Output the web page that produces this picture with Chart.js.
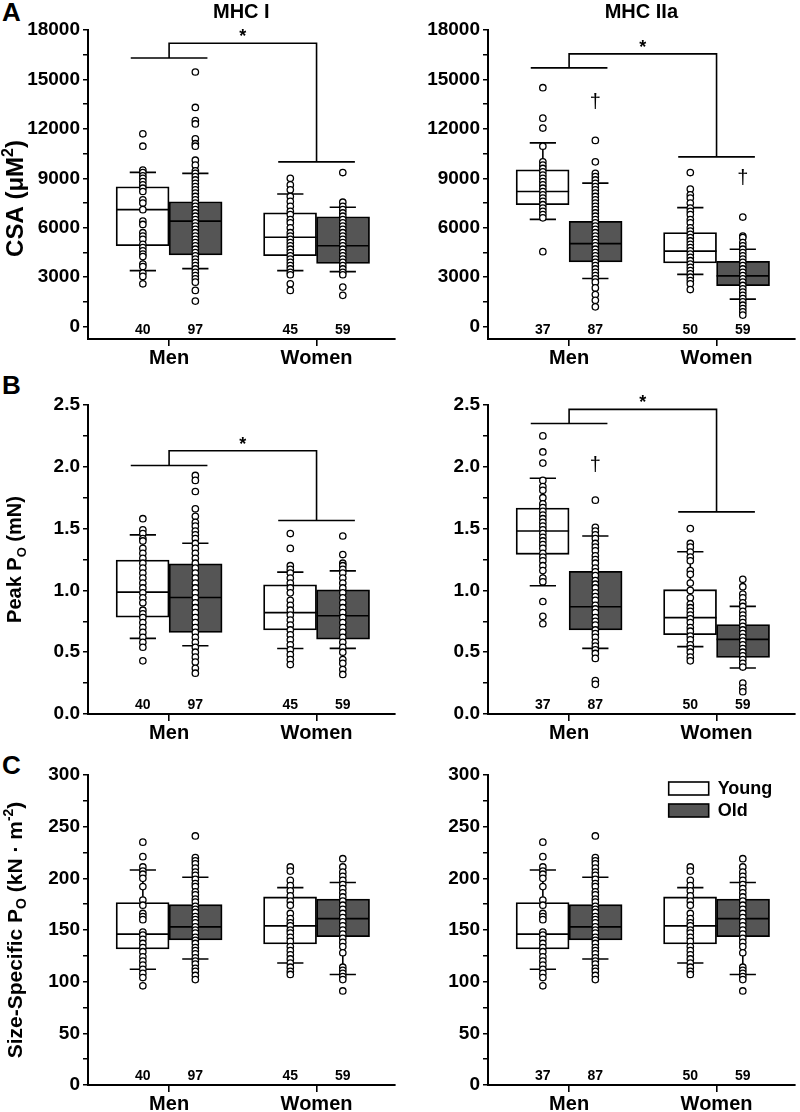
<!DOCTYPE html>
<html>
<head>
<meta charset="utf-8">
<script src="https://cdn.jsdelivr.net/npm/chart.js@4.4.1/dist/chart.umd.min.js"></script>
<style>
  body { margin: 0; background: #fff; width: 800px; height: 1112px; position: relative; overflow: hidden;
         font-family: Arial, "Liberation Sans", sans-serif; }
  canvas { position: absolute; }
  .letter { position: absolute; left: 2px; font-weight: bold; font-size: 26px; line-height: 1; }
</style>
</head>
<body>
<div class="letter" style="top:-1px">A</div>
<div class="letter" style="top:372px">B</div>
<div class="letter" style="top:752px">C</div>

<canvas id="csaI" width="400" height="372" style="left:0;top:0"></canvas>
<canvas id="csaIIa" width="400" height="372" style="left:400px;top:0"></canvas>
<canvas id="peakI" width="400" height="378" style="left:0;top:372px"></canvas>
<canvas id="peakIIa" width="400" height="378" style="left:400px;top:372px"></canvas>
<canvas id="ssI" width="400" height="362" style="left:0;top:750px"></canvas>
<canvas id="ssIIa" width="400" height="362" style="left:400px;top:750px"></canvas>

<script>
const FONT = 'Arial, "Liberation Sans", sans-serif';
Chart.defaults.font.family = FONT;
Chart.defaults.color = '#000';

// categories
const groups = ["Men", "Women"];
const ageGroups = ["Young", "Old"];

// tick labels
const csaTicks = [0, 3000, 6000, 9000, 12000, 15000, 18000];
const peakTicks = [0, 0.5, 1.0, 1.5, 2.0, 2.5];
const ssTicks = [0, 50, 100, 150, 200, 250, 300];

// fibre counts: young men, old men, young women, old women
const countsI = [40, 97, 45, 59];
const countsIIa = [37, 87, 50, 59];

// box stats [lower whisker, q1, median, q3, upper whisker] : YM, OM, YW, OW
const csaI_box = [[3400, 4910, 7100, 8490, 9360], [3520, 4350, 6400, 7580, 9300],
                  [3400, 4310, 5420, 6910, 8050], [3340, 3840, 4910, 6670, 7240]];
const csaIIa_box = [[6510, 7400, 8200, 9520, 11150], [2920, 3930, 5040, 6390, 8710],
                    [3170, 3870, 4580, 5710, 7220], [1670, 2480, 3080, 3970, 4700]];
const peakI_box = [[0.612, 0.784, 0.986, 1.245, 1.449], [0.552, 0.66, 0.943, 1.215, 1.382],
                   [0.53, 0.68, 0.82, 1.045, 1.148], [0.531, 0.606, 0.795, 1.005, 1.158]];
const peakIIa_box = [[1.038, 1.292, 1.48, 1.667, 1.907], [0.531, 0.68, 0.868, 1.154, 1.44],
                     [0.545, 0.642, 0.78, 1.006, 1.313], [0.372, 0.458, 0.604, 0.723, 0.871]];
const ss_box = [[112, 131.6, 146, 176.5, 208], [122, 140.3, 153, 174.5, 201],
                [118, 136.5, 154, 182, 191], [107, 143.6, 161, 180, 196]];

// individual fibres
const csaI_youngMen = [11700, 10950, 9500, 9350, 9150, 9000, 8800, 8600, 8400, 8200, 7700, 7500, 7100, 6400, 6200, 5700, 5500, 5300, 5000, 4800, 4600, 4400, 4250, 3800, 3650, 3250, 3050, 2600];
const csaI_oldMen = [15450, 13300, 12500, 12300, 11400, 11100, 10950, 10100, 9800, 9450, 9300, 9100, 8900, 8700, 8500, 8300, 8100, 7900, 7700, 7500, 7300, 7100, 6900, 6700, 6500, 6300, 6100, 5900, 5700, 5500, 5300, 5100, 4900, 4700, 4500, 4300, 4100, 3900, 3700, 3500, 3300, 3100, 2900, 2700, 2200, 1550];
const csaI_youngWomen = [9000, 8600, 8300, 7900, 7600, 7300, 7000, 6800, 6500, 6300, 6000, 5700, 5500, 5300, 5100, 4900, 4700, 4500, 4300, 4100, 3900, 3700, 3500, 3300, 3150, 2600, 2200];
const csaI_oldWomen = [9350, 7550, 7300, 7100, 6900, 6700, 6500, 6300, 6100, 5900, 5700, 5500, 5300, 5100, 4900, 4700, 4500, 4300, 4100, 3900, 3700, 3500, 3300, 3150, 2400, 1900];

const csaIIa_youngMen = [14500, 12650, 12050, 10950, 10000, 9800, 9600, 9400, 9200, 9000, 8800, 8600, 8400, 8200, 8000, 7800, 7600, 7400, 7200, 7000, 6800, 6600, 4550];
const csaIIa_oldMen = [11300, 10000, 9300, 9100, 8900, 8700, 8500, 8300, 8100, 7900, 7700, 7500, 7300, 7100, 6900, 6700, 6500, 6300, 6100, 5900, 5700, 5500, 5300, 5100, 4900, 4700, 4500, 4300, 4100, 3900, 3700, 3500, 3300, 3100, 2900, 2700, 2350, 1950, 1600, 1200];
const csaIIa_youngWomen = [9350, 8350, 8000, 7800, 7500, 7200, 7000, 6800, 6500, 6300, 6000, 5800, 5600, 5400, 5200, 5000, 4800, 4600, 4400, 4200, 4000, 3800, 3600, 3400, 3200, 3000, 2800, 2600, 2250];
const csaIIa_oldWomen = [6650, 5500, 5400, 5100, 4900, 4700, 4500, 4300, 4100, 3900, 3700, 3500, 3300, 3100, 2900, 2700, 2500, 2300, 2100, 1900, 1700, 1500, 1300, 1100, 900, 700];

const peakI_youngMen = [1.58, 1.49, 1.46, 1.42, 1.40, 1.34, 1.30, 1.26, 1.22, 1.18, 1.14, 1.10, 1.06, 1.02, 0.98, 0.94, 0.90, 0.84, 0.81, 0.78, 0.74, 0.70, 0.66, 0.62, 0.58, 0.54, 0.43];
const peakI_oldMen = [1.93, 1.89, 1.80, 1.66, 1.60, 1.55, 1.52, 1.48, 1.45, 1.42, 1.38, 1.34, 1.30, 1.26, 1.22, 1.18, 1.14, 1.10, 1.06, 1.02, 0.98, 0.94, 0.90, 0.86, 0.82, 0.78, 0.74, 0.70, 0.66, 0.62, 0.58, 0.54, 0.50, 0.46, 0.42, 0.37, 0.33];
const peakI_youngWomen = [1.46, 1.34, 1.20, 1.17, 1.14, 1.10, 1.06, 1.02, 0.98, 0.92, 0.88, 0.84, 0.80, 0.76, 0.72, 0.68, 0.64, 0.60, 0.56, 0.52, 0.48, 0.44, 0.40];
const peakI_oldWomen = [1.44, 1.29, 1.22, 1.20, 1.17, 1.14, 1.10, 1.06, 1.02, 0.98, 0.94, 0.90, 0.86, 0.82, 0.78, 0.74, 0.70, 0.66, 0.62, 0.58, 0.54, 0.50, 0.44, 0.41, 0.36, 0.32];

const peakIIa_youngMen = [2.25, 2.12, 2.03, 1.89, 1.84, 1.81, 1.75, 1.70, 1.67, 1.64, 1.61, 1.58, 1.55, 1.52, 1.49, 1.46, 1.43, 1.40, 1.37, 1.34, 1.30, 1.27, 1.24, 1.20, 1.16, 1.10, 1.07, 0.91, 0.79, 0.73];
const peakIIa_oldMen = [1.73, 1.51, 1.48, 1.45, 1.42, 1.38, 1.35, 1.32, 1.28, 1.25, 1.22, 1.18, 1.15, 1.12, 1.08, 1.05, 1.02, 0.98, 0.95, 0.92, 0.88, 0.85, 0.82, 0.78, 0.75, 0.72, 0.68, 0.65, 0.62, 0.58, 0.55, 0.52, 0.49, 0.45, 0.27, 0.24];
const peakIIa_youngWomen = [1.50, 1.38, 1.35, 1.31, 1.27, 1.24, 1.16, 1.13, 1.06, 1.00, 0.94, 0.89, 0.86, 0.83, 0.80, 0.77, 0.74, 0.70, 0.67, 0.63, 0.60, 0.56, 0.53, 0.50, 0.46, 0.43];
const peakIIa_oldWomen = [1.09, 1.03, 0.97, 0.94, 0.90, 0.87, 0.83, 0.80, 0.77, 0.74, 0.71, 0.68, 0.65, 0.62, 0.59, 0.56, 0.53, 0.50, 0.47, 0.44, 0.41, 0.38, 0.25, 0.21, 0.18];

const ss_youngMen = [235, 221, 211, 207, 204, 200, 192, 179, 174, 166, 163, 160, 148, 145, 141, 137, 133, 129, 124, 120, 116, 112, 108, 104, 96];
const ss_oldMen = [241, 220, 217, 214, 210, 206, 203, 199, 195, 192, 187, 184, 180, 177, 173, 170, 167, 163, 160, 157, 153, 150, 147, 143, 140, 137, 133, 130, 127, 123, 120, 117, 113, 110, 106, 102];
const ss_youngWomen = [211, 207, 198, 193, 188, 183, 178, 174, 166, 161, 157, 154, 150, 147, 143, 139, 134, 130, 126, 122, 118, 114, 110, 107];
const ss_oldWomen = [219, 211, 206, 202, 198, 194, 190, 186, 182, 178, 174, 170, 166, 162, 158, 154, 150, 146, 142, 138, 134, 128, 114, 111, 108, 105, 102, 91];

// sex-effect brackets [men bar, top bar, women bar]
const sigCsaI = [16300, 17200, 10000];
const sigCsaIIa = [15700, 16550, 10300];
const sigPeakI = [2.01, 2.13, 1.565];
const sigPeakIIa = [2.35, 2.465, 1.635];

// age-effect daggers (per box, null = none)
const daggerCsaIIa = [null, 13600, null, 8970];
const daggerPeakIIa = [null, 2.01, null, null];

const OFF = 0.178;   // box centre offset from group tick (group units)
const DARK = '#555555';

function withMinor(major) {
  const out = [];
  major.forEach((v, i) => {
    out.push(v);
    if (i < major.length - 1) out.push((v + major[i + 1]) / 2);
  });
  return out;
}

const boxExtras = {
  id: 'boxExtras',
  beforeDatasetsDraw(chart) { chart.$bars = 0; },
  afterDatasetDraw(chart, args, opts) {
    if (args.meta.type !== 'bar') return;
    chart.$bars++;
    if (chart.$bars < 2) return;
    const { ctx, scales: { x, y } } = chart;
    const half = x.getPixelForValue(1 + OFF) - x.getPixelForValue(1);
    ctx.save();
    ctx.strokeStyle = '#000';
    ctx.lineWidth = 1.6;
    opts.boxes.forEach((b, k) => {
      const g = Math.floor(k / 2) + 1;
      const xc = x.getPixelForValue(g + (k % 2 ? OFF : -OFF));
      const [lo, q1, med, q3, hi] = b.map(v => y.getPixelForValue(v));
      ctx.beginPath();
      ctx.moveTo(xc - half, med); ctx.lineTo(xc + half, med);
      ctx.moveTo(xc, q3); ctx.lineTo(xc, hi);
      ctx.moveTo(xc, q1); ctx.lineTo(xc, lo);
      ctx.moveTo(xc - half / 2, hi); ctx.lineTo(xc + half / 2, hi);
      ctx.moveTo(xc - half / 2, lo); ctx.lineTo(xc + half / 2, lo);
      ctx.stroke();
    });
    ctx.restore();
  },
  afterDatasetsDraw(chart, args, opts) {
    const { ctx, chartArea, scales: { x, y } } = chart;
    ctx.save();
    ctx.fillStyle = '#000';
    ctx.strokeStyle = '#000';
    ctx.textAlign = 'center';

    // n per box
    ctx.font = 'bold 14px ' + FONT;
    ctx.textBaseline = 'middle';
    opts.counts.forEach((n, k) => {
      const g = Math.floor(k / 2) + 1;
      ctx.fillText(String(n), x.getPixelForValue(g + (k % 2 ? OFF : -OFF)), chartArea.bottom - 9);
    });

    // sex bracket
    if (opts.sig) {
      const [m, t, w] = opts.sig.map(v => y.getPixelForValue(v));
      const x1 = x.getPixelForValue(1), x2 = x.getPixelForValue(2);
      const hw = x.getPixelForValue(1.26) - x1;
      ctx.lineWidth = 1.6;
      ctx.beginPath();
      ctx.moveTo(x1 - hw, m); ctx.lineTo(x1 + hw, m);
      ctx.moveTo(x1, m); ctx.lineTo(x1, t); ctx.lineTo(x2, t); ctx.lineTo(x2, w);
      ctx.moveTo(x2 - hw, w); ctx.lineTo(x2 + hw, w);
      ctx.stroke();
      ctx.font = 'bold 18px ' + FONT;
      ctx.textBaseline = 'alphabetic';
      ctx.fillText('*', (x1 + x2) / 2, t - 1);
    }

    // age daggers
    if (opts.daggers) {
      ctx.font = '20px ' + FONT;
      ctx.textBaseline = 'middle';
      opts.daggers.forEach((v, k) => {
        if (v == null) return;
        const g = Math.floor(k / 2) + 1;
        ctx.fillText('\u2020', x.getPixelForValue(g + (k % 2 ? OFF : -OFF)), y.getPixelForValue(v));
      });
    }

    // legend
    if (opts.legend) {
      const bars = chart.data.datasets.filter(d => d.type === 'bar');
      ctx.textAlign = 'left';
      ctx.textBaseline = 'middle';
      ctx.font = 'bold 18px ' + FONT;
      ctx.lineWidth = 1.6;
      bars.forEach((d, i) => {
        const bx = chartArea.right - 126, by = chartArea.top + 7 + i * 22;
        ctx.fillStyle = d.backgroundColor;
        ctx.fillRect(bx, by, 40, 13);
        ctx.strokeRect(bx, by, 40, 13);
        ctx.fillStyle = '#000';
        ctx.fillText(d.label, bx + 49, by + 7);
      });
    }

    // y title with sub/superscripts
    if (opts.yTitle) {
      const fs = opts.yTitleSize;
      const cy = (chartArea.top + chartArea.bottom) / 2 + (opts.yTitleShift || 0);
      ctx.translate(14, cy);
      ctx.rotate(-Math.PI / 2);
      ctx.textAlign = 'left';
      ctx.textBaseline = 'alphabetic';
      const segs = opts.yTitle.map(([t, s]) => ({ t, s, f: 'bold ' + (s ? Math.round(fs * 0.65) : fs) + 'px ' + FONT }));
      let total = 0;
      segs.forEach(sg => { ctx.font = sg.f; sg.w = ctx.measureText(sg.t).width; total += sg.w; });
      let px = -total / 2;
      segs.forEach(sg => {
        ctx.font = sg.f;
        const dy = fs * 0.36 + (sg.s > 0 ? -fs * 0.42 : sg.s < 0 ? fs * 0.22 : 0);
        ctx.fillText(sg.t, px, dy);
        px += sg.w;
      });
    }
    ctx.restore();
  }
};

function makePanel(id, o) {
  const datasets = ageGroups.map((label, a) => ({
    type: 'bar',
    label,
    data: groups.map((g, gi) => {
      const b = o.boxes[gi * 2 + a];
      return { x: gi + 1, y: [b[1], b[3]] };
    }),
    backgroundColor: a ? DARK : '#ffffff',
    borderColor: '#000',
    borderWidth: 1.8,
    borderSkipped: false,
    barThickness: 53,
    grouped: true,
    order: 2
  }));
  o.points.forEach((pts, k) => {
    const g = Math.floor(k / 2) + 1;
    datasets.push({
      type: 'scatter',
      data: pts.map(v => ({ x: g + (k % 2 ? OFF : -OFF), y: v })),
      pointRadius: 3.2,
      pointBorderWidth: 1.3,
      pointBackgroundColor: '#fff',
      pointBorderColor: '#000',
      order: 1
    });
  });

  const yTicks = withMinor(o.ticks);
  new Chart(document.getElementById(id), {
    type: 'bar',
    data: { datasets },
    plugins: [boxExtras],
    options: {
      responsive: false,
      animation: false,
      events: [],
      layout: { padding: { top: o.padTop, left: 0, right: 1, bottom: 0 } },
      plugins: {
        legend: { display: false },
        tooltip: { enabled: false },
        title: {
          display: !!o.title,
          text: o.title || '',
          fullSize: false,
          font: { size: 20, weight: 'bold' },
          color: '#000',
          padding: { top: 0, bottom: 6 }
        },
        boxExtras: {
          boxes: o.boxes, counts: o.counts, sig: o.sig, daggers: o.daggers, legend: o.legend,
          yTitle: o.yTitle, yTitleSize: o.yTitleSize, yTitleShift: o.yTitleShift
        }
      },
      scales: {
        x: {
          type: 'linear',
          offset: false,
          min: 0.45,
          max: 2.53,
          afterBuildTicks: s => { s.ticks = groups.map((g, i) => ({ value: i + 1 })); },
          afterFit: s => { s.height = o.xHeight; },
          ticks: {
            callback: (v, i) => groups[i],
            font: { size: 20, weight: 'bold' },
            color: '#000',
            padding: 0,
            maxRotation: 0,
            autoSkip: false
          },
          grid: { offset: false, drawOnChartArea: false, drawTicks: true, tickLength: 7, color: '#000', lineWidth: 1.6 },
          border: { display: true, color: '#000', width: 2 }
        },
        y: {
          type: 'linear',
          min: o.yMin,
          max: o.ticks[o.ticks.length - 1],
          afterBuildTicks: s => { s.ticks = yTicks.map(v => ({ value: v })); },
          afterFit: s => { s.width = 88; },
          ticks: {
            callback: v => o.ticks.includes(v) ? o.fmt(v) : '',
            font: { size: 19, weight: 'bold' },
            color: '#000',
            padding: 3,
            autoSkip: false
          },
          grid: { drawOnChartArea: false, drawTicks: true, tickLength: 5, color: '#000', lineWidth: 1.5 },
          border: { display: true, color: '#000', width: 2 }
        }
      }
    }
  });
}

const intFmt = v => String(v);
const decFmt = v => v.toFixed(1);

makePanel('csaI', {
  title: 'MHC I', padTop: 0, xHeight: 33, yMin: -750, ticks: csaTicks, fmt: intFmt,
  boxes: csaI_box, counts: countsI, sig: sigCsaI,
  points: [csaI_youngMen, csaI_oldMen, csaI_youngWomen, csaI_oldWomen],
  yTitle: [['CSA (\u03BCM', 0], ['2', 1], [')', 0]], yTitleSize: 24, yTitleShift: 14
});
makePanel('csaIIa', {
  title: 'MHC IIa', padTop: 0, xHeight: 33, yMin: -750, ticks: csaTicks, fmt: intFmt,
  boxes: csaIIa_box, counts: countsIIa, sig: sigCsaIIa, daggers: daggerCsaIIa,
  points: [csaIIa_youngMen, csaIIa_oldMen, csaIIa_youngWomen, csaIIa_oldWomen]
});
makePanel('peakI', {
  padTop: 33, xHeight: 36, yMin: 0, ticks: peakTicks, fmt: decFmt,
  boxes: peakI_box, counts: countsI, sig: sigPeakI,
  points: [peakI_youngMen, peakI_oldMen, peakI_youngWomen, peakI_oldWomen],
  yTitle: [['Peak P', 0], ['O', -1], [' (mN)', 0]], yTitleSize: 20
});
makePanel('peakIIa', {
  padTop: 33, xHeight: 36, yMin: 0, ticks: peakTicks, fmt: decFmt,
  boxes: peakIIa_box, counts: countsIIa, sig: sigPeakIIa, daggers: daggerPeakIIa,
  points: [peakIIa_youngMen, peakIIa_oldMen, peakIIa_youngWomen, peakIIa_oldWomen]
});
makePanel('ssI', {
  padTop: 25, xHeight: 27, yMin: 0, ticks: ssTicks, fmt: intFmt,
  boxes: ss_box, counts: countsI,
  points: [ss_youngMen, ss_oldMen, ss_youngWomen, ss_oldWomen],
  yTitle: [['Size-Specific P', 0], ['O', -1], [' (kN \u00B7 m', 0], ['-2', 1], [')', 0]], yTitleSize: 21
});
makePanel('ssIIa', {
  padTop: 25, xHeight: 27, yMin: 0, ticks: ssTicks, fmt: intFmt,
  boxes: ss_box, counts: countsIIa, legend: true,
  points: [ss_youngMen, ss_oldMen, ss_youngWomen, ss_oldWomen]
});
</script>
</body>
</html>
